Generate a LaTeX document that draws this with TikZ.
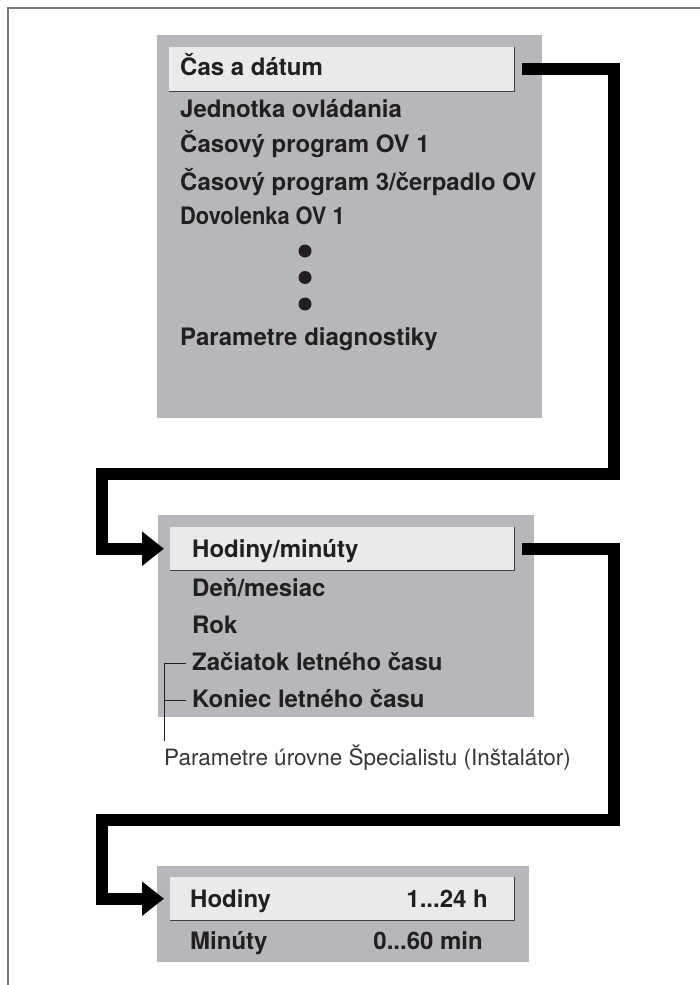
\documentclass[tikz,border=0pt]{standalone}
\usepackage{fontspec}
\setmainfont{TeX Gyre Heros}
\newfontfamily\tightfont[FakeStretch=0.91]{TeX Gyre Heros}
\usetikzlibrary{calc,arrows.meta}
\pgfdeclarelayer{background}
\pgfdeclarelayer{foreground}
\pgfsetlayers{background,main,foreground}

\definecolor{panelgray}{RGB}{182,183,187}
\definecolor{selgray}{RGB}{233,234,236}
\definecolor{inkdark}{RGB}{35,31,32}
\definecolor{framegray}{RGB}{120,120,120}

\newcommand{\itemfont}{\bfseries\fontsize{24}{28}\selectfont}
\newcommand{\notefont}{\fontsize{22.5}{27}\selectfont}

\begin{document}
\begin{tikzpicture}[x=1pt,y=-1pt,
  panel/.style={fill=panelgray,inner sep=0pt,anchor=north west},
  selected/.style={fill=selgray,inner sep=0pt,anchor=north west},
  edge/.style={draw=black!75,line width=1.5pt},
  item/.style={font=\itemfont,text=inkdark,inner sep=0pt,anchor=base west},
  flow/.style={line width=12pt,line join=miter,-{Triangle[length=22pt,width=33pt]}},
  tick/.style={draw=inkdark,line width=0.8pt}]

\useasboundingbox (0,0) rectangle (700,985);
\draw[framegray,line width=1.5pt] (8,985) -- (8,8) -- (700,8);% frame

\coordinate (OneRight) at (613.5,473.5);
\coordinate (OneLeft)  at (102,473.5);
\coordinate (TwoRight) at (613.5,819.5);
\coordinate (TwoLeft)  at (102,819.5);

\begin{pgfonlayer}{background}
  \node[panel,minimum width=385pt,minimum height=383pt] (menu) at (157,35) {};
  \node[panel,minimum width=376pt,minimum height=202pt] (datum) at (158,515) {};
  \node[panel,minimum width=372pt,minimum height=96pt] (cas) at (157,866) {};
\end{pgfonlayer}

% selected lines
\node[selected,minimum width=345pt,minimum height=44pt] (seltime) at (169,47) {};
\node[selected,minimum width=344pt,minimum height=43pt] (selhm) at (170,527) {};
\node[selected,minimum width=344pt,minimum height=43pt] (selh) at (170,877) {};
\foreach \s in {seltime,selhm,selh}
  \draw[edge] (\s.north east) -- (\s.south east) -- (\s.south west);

% first menu
\node[item] (timedate) at (180,75) {Čas a dátum};
\node[item] (unit) at (180,117) {Jednotka ovládania};
\node[item] (prog1) at (180,152) {Časový program OV 1};
\node[item] (prog3) at (180,190) {Časový program 3/čerpadlo OV};
\node[item,font=\itemfont\tightfont] (holiday) at (180,224) {Dovolenka OV 1};
\foreach \y in {251,277.5,304}
  \fill[inkdark] (305,\y) circle (6.5pt);
\node[item] (diag) at (180,345) {Parametre diagnostiky};

% second menu
\node[item] (hm) at (192,557) {Hodiny/minúty};
\node[item] (dm) at (192,596) {Deň/mesiac};
\node[item] (year) at (192,633) {Rok};
\node[item] (dstbeg) at (192,670) {Začiatok letného času};
\node[item] (dstend) at (192,707) {Koniec letného času};
\node[font=\notefont,text=inkdark!90,inner sep=0pt,anchor=base west] (expert) at (164,765)
  {Parametre úrovne Špecialistu (Inštalátor)};
\draw[tick] ([shift={(-6pt,7pt)}]dstbeg.base west) -- ++(-22pt,0) coordinate (Bracket)
  -- ([yshift=3pt]Bracket |- expert.north);
\draw[tick] ([shift={(-6pt,7pt)}]dstend.base west) -- ++(-22pt,0);

% third menu
\node[item] (hours) at (190,907) {Hodiny};
\node[item] (minutes) at (190,949) {Minúty};
\node[item,anchor=base east] (hrange) at (488,907) {1...24 h};
\node[item,anchor=base east] (mrange) at (483,949) {0...60 min};

% flow
\draw[flow] ([xshift=8pt]seltime.east) -| (OneRight) -- (OneLeft) |- ([xshift=-6pt]selhm.west);
\draw[flow] ([xshift=8pt]selhm.east) -| (TwoRight) -- (TwoLeft) |- ([xshift=-6pt]selh.west);
\end{tikzpicture}
\end{document}
